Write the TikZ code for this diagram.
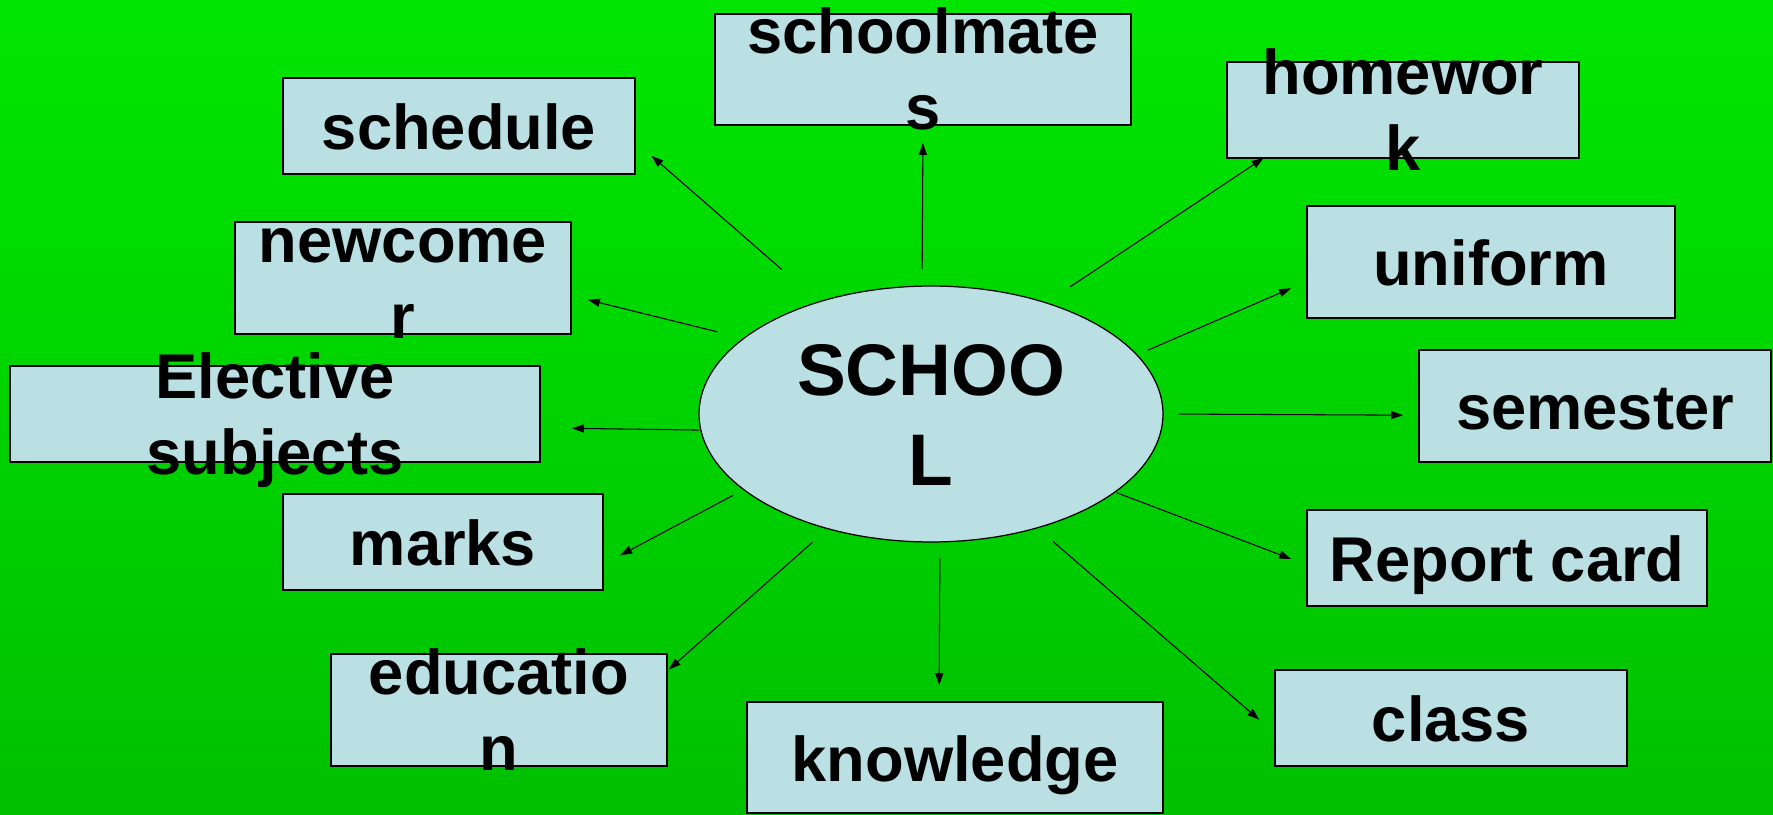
\documentclass[tikz,border=0pt]{standalone}
\usepackage{fontspec}
\setmainfont{Liberation Sans}
\usetikzlibrary{arrows.meta,shapes.geometric}

\definecolor{boxblue}{RGB}{186,224,228}
\definecolor{topgreen}{RGB}{0,230,0}
\definecolor{botgreen}{RGB}{0,192,0}

\newcommand{\twolines}[2]{\begin{tabular}[t]{@{}c@{}}#1\\#2\end{tabular}}

\tikzset{
  box/.style = {draw, line width = .85pt, fill = boxblue, inner sep = 0pt,
    outer sep = 0pt, font = \bfseries\fontsize{36}{43.3}\selectfont},
  oneline/.style = {text height = 27.3pt, text depth = 0pt},
  twoline/.style = {text height = 0pt, text depth = 18.2pt},
  arr/.style = {line width = .6pt, -{Triangle[length = 6.8pt, width = 4.6pt]}}
}

\begin{document}
\begin{tikzpicture}[x = .02cm, y = -.02cm]
  \shade [top color = topgreen, bottom color = botgreen] (0,0) rectangle (1773,814);
  \useasboundingbox (0,0) rectangle (1773,814);

  \node [ellipse, draw, line width = .7pt, fill = boxblue, inner sep = 0pt,
    outer sep = 0pt, minimum width = 9.28cm, minimum height = 5.12cm,
    text height = 0pt, text depth = 20.5pt,
    font = \bfseries\fontsize{41.6}{51.2}\selectfont] (school) at (931,414) {\twolines{SCHOO}{L}};

  \node [box, twoline, minimum width = 8.32cm, minimum height = 2.22cm] (mates) at (923,69.5) {\twolines{schoolmate}{s}};
  \node [box, oneline, minimum width = 7.04cm, minimum height = 1.92cm] (sched) at (459,126) {schedule};
  \node [box, twoline, minimum width = 7.04cm, minimum height = 1.92cm] (homew) at (1403,110) {\twolines{homewor}{k}};
  \node [box, twoline, minimum width = 6.72cm, minimum height = 2.24cm] (newc) at (403,278) {\twolines{newcome}{r}};
  \node [box, oneline, minimum width = 7.36cm, minimum height = 2.24cm] (unif) at (1491,262) {uniform};
  \node [box, twoline, minimum width = 10.6cm, minimum height = 1.92cm] (elect) at (275,414) {\twolines{Elective}{subjects}};
  \node [box, oneline, minimum width = 7.04cm, minimum height = 2.24cm] (semes) at (1595,406) {semester};
  \node [box, oneline, minimum width = 6.4cm, minimum height = 1.92cm] (marks) at (443,542) {marks};
  \node [box, oneline, minimum width = 8cm, minimum height = 1.92cm] (report) at (1507,558) {Report card};
  \node [box, twoline, minimum width = 6.72cm, minimum height = 2.24cm] (educ) at (499,710) {\twolines{educatio}{n}};
  \node [box, oneline, minimum width = 8.32cm, minimum height = 2.22cm] (knowl) at (955,757.5) {knowledge};
  \node [box, oneline, minimum width = 7.04cm, minimum height = 1.92cm] (class) at (1451,718) {class};

  \draw [arr, shorten <= .34cm, shorten >= .36cm] (school.94) -- (mates.south);
  \draw [arr, shorten <= .99cm, shorten >= .44cm] (school.135.9) -- (sched.-5.7);
  \draw [arr, shorten <= .54cm, shorten >= .35cm] (school.158.9) -- (newc.-6.7);
  \draw [arr, shorten <= .58cm] (school.44.7) -- (homew.-161.8);
  \draw [arr, shorten <= .24cm, shorten >= .35cm] (school.16) -- (unif.-174.8);
  \draw [arr, shorten <= .32cm, shorten >= .32cm] (school.0) -- (semes.-177.4);
  \draw [arr, shorten <= .04cm, shorten >= .64cm] (school.-176) -- (elect.-3.5);
  \draw [arr, shorten <= .24cm, shorten >= .39cm] (school.-158.7) -- (marks.-8.7);
  \draw [arr, shorten <= .41cm, shorten >= .05cm] (school.-132.4) -- (educ.13.5);
  \draw [arr, shorten <= .32cm, shorten >= .34cm] (school.-86.4) -- (knowl.106.1);
  \draw [arr, shorten <= .42cm, shorten >= .42cm] (school.-47.8) -- (class.-175.9);
  \draw [arr, shorten <= .04cm, shorten >= .34cm] (school.-23.5) -- (report.-178.7);
\end{tikzpicture}
\end{document}
